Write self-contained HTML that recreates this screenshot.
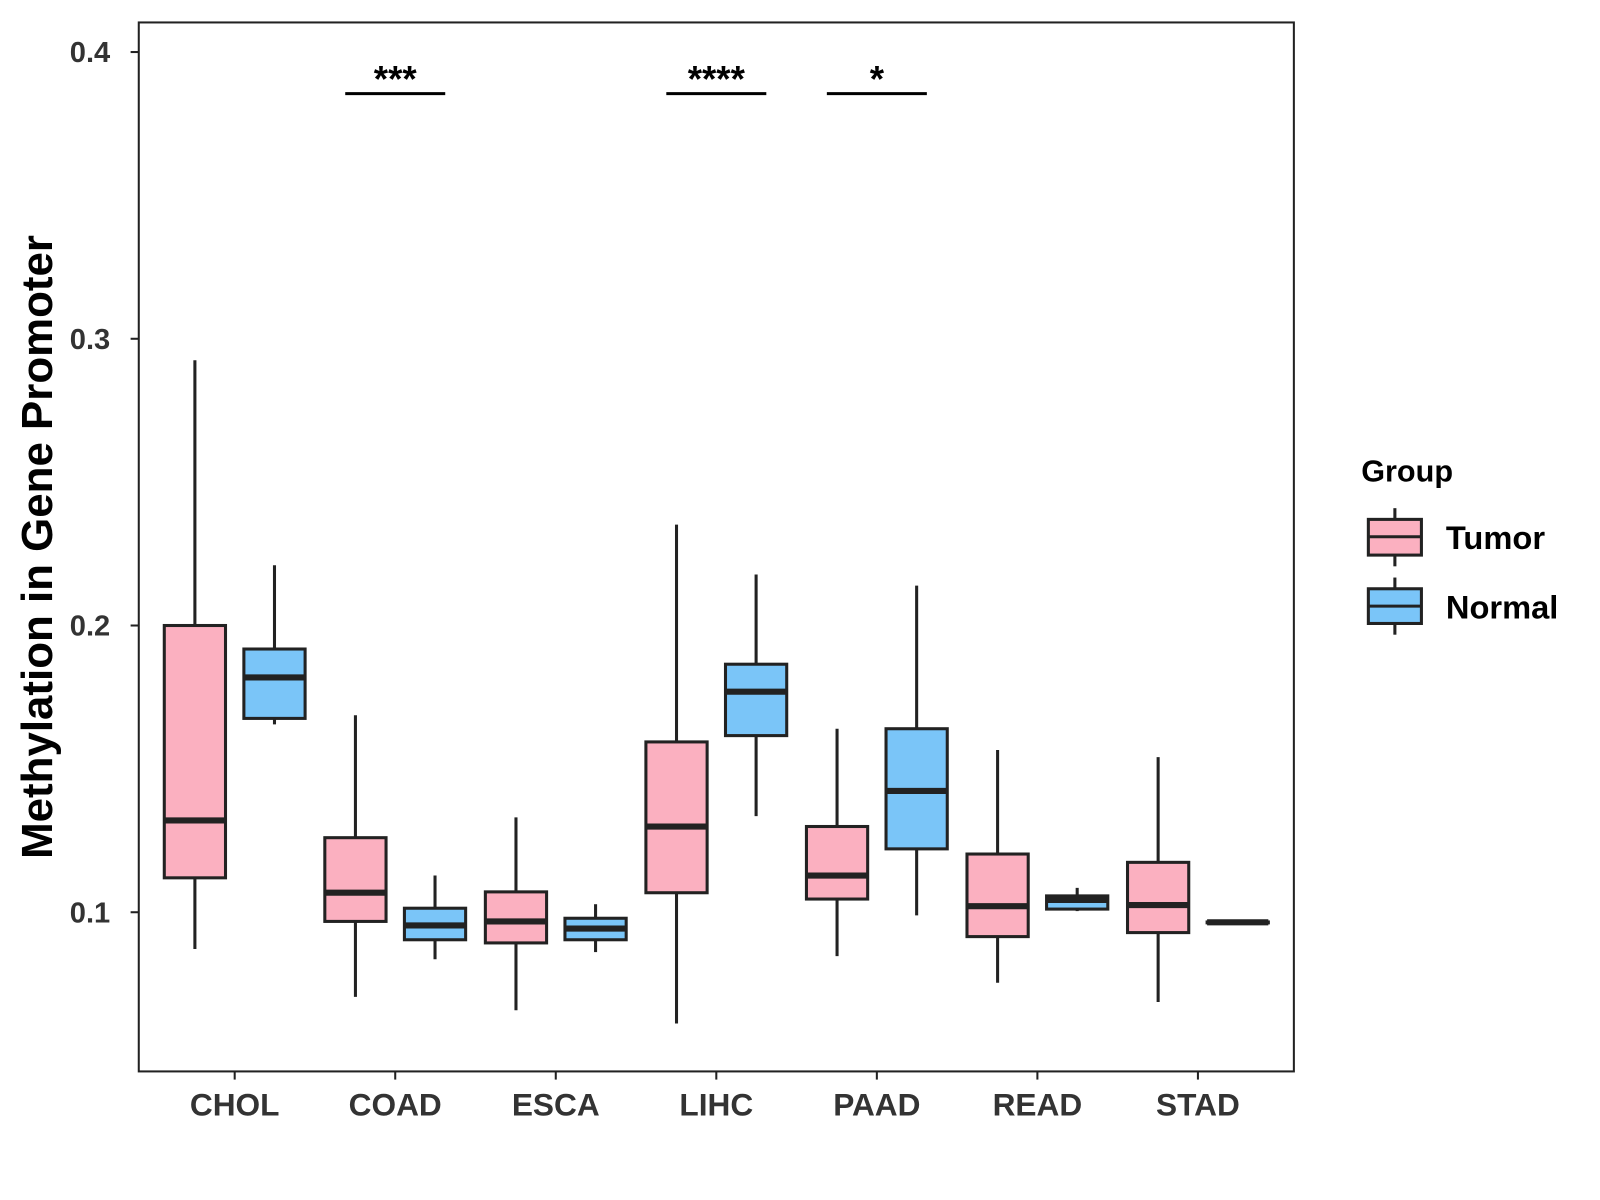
<!DOCTYPE html>
<html><head><meta charset="utf-8"><style>
html,body{margin:0;padding:0;background:#fff}
svg{display:block}
text{font-family:"Liberation Sans",Arial,sans-serif;font-weight:bold}
</style></head><body>
<svg id="chart" width="1600" height="1200" viewBox="0 0 1600 1200">
<g transform="scale(1.0204)">
<rect x="136" y="22" width="1132" height="1028" fill="#fff" stroke="#222" stroke-width="2"/>
<g id="boxes"></g>
<g id="axes"></g>
<g id="sig"></g>
<text x="51" y="536" transform="rotate(-90 51 536)" text-anchor="middle" font-size="43" fill="#000">Methylation in Gene Promoter</text>
<g>
<text x="1334" y="472" font-size="30" fill="#000">Group</text>
<g>
<line x1="1367" y1="498" x2="1367" y2="555" stroke="#222" stroke-width="3"/>
<rect x="1341" y="509" width="52" height="35" fill="#FBB0C0" stroke="#222" stroke-width="3"/>
<line x1="1341" y1="526" x2="1393" y2="526" stroke="#222" stroke-width="3"/>
<text x="1417" y="538" font-size="32" fill="#000">Tumor</text></g>
<g>
<line x1="1367" y1="566" x2="1367" y2="622" stroke="#222" stroke-width="3"/>
<rect x="1341" y="577" width="52" height="34" fill="#7AC5F8" stroke="#222" stroke-width="3"/>
<line x1="1341" y1="594" x2="1393" y2="594" stroke="#222" stroke-width="3"/>
<text x="1417" y="606" font-size="32" fill="#000">Normal</text></g>
</g>
</g>
</svg>
<script>
const categories=["CHOL","COAD","ESCA","LIHC","PAAD","READ","STAD"];
// [low, q1, median, q3, high]
const tumorStats=[[0.0872,0.112,0.132,0.2,0.2925],[0.0705,0.0968,0.1068,0.126,0.1687],[0.0658,0.0893,0.0968,0.1071,0.1331],[0.0612,0.1068,0.1299,0.1594,0.2352],[0.0847,0.1046,0.1128,0.1299,0.164],[0.0754,0.0915,0.1021,0.1203,0.1566],[0.0687,0.0929,0.1025,0.1174,0.1541]];
const normalStats=[[0.1655,0.1676,0.1819,0.1918,0.221],[0.0836,0.0904,0.0954,0.1014,0.1128],[0.0861,0.0904,0.0943,0.0979,0.1028],[0.1335,0.1616,0.1769,0.1865,0.2178],[0.0989,0.1221,0.1423,0.164,0.2139],[0.1004,0.1011,0.1043,0.1057,0.1085],[0.0962,0.0963,0.0965,0.0966,0.0968]];
const yTicks=[0.1,0.2,0.3,0.4];
const sigCats=["COAD","LIHC","PAAD"];
const sigLabels=["***","****","*"];
const sigY=0.3855;

const NS="http://www.w3.org/2000/svg";
const y=v=>51+(0.4-v)*2810;
const x=i=>230+i*157.33;
function mk(tag,attrs,parent){const e=document.createElementNS(NS,tag);for(const k in attrs)e.setAttribute(k,attrs[k]);parent.appendChild(e);return e;}
const boxes=document.getElementById('boxes'),axes=document.getElementById('axes'),sig=document.getElementById('sig');
function drawBox(cx,s,fill,name){
  const g=mk('g',{},boxes);
  
  
  mk('line',{x1:cx,x2:cx,y1:y(s[4]),y2:y(s[0]),stroke:'#222','stroke-width':3},g);
  mk('rect',{x:cx-30,y:y(s[3]),width:60,height:Math.max(y(s[1])-y(s[3]),0.5),fill:fill,stroke:'#222','stroke-width':3},g);
  mk('line',{x1:cx-30,x2:cx+30,y1:y(s[2]),y2:y(s[2]),stroke:'#222','stroke-width':6},g);
}
categories.forEach((c,i)=>{
  drawBox(x(i)-39,tumorStats[i],'#FBB0C0','box-tumor-'+c.toLowerCase());
  drawBox(x(i)+39,normalStats[i],'#7AC5F8','box-normal-'+c.toLowerCase());
  mk('line',{x1:x(i),x2:x(i),y1:1050,y2:1058,stroke:'#222','stroke-width':2},axes);
  const t=mk('text',{x:x(i),y:1093,'text-anchor':'middle','font-size':31,fill:'#333'},axes);
  
  
  t.textContent=c;
});
yTicks.forEach(v=>{
  mk('line',{x1:128,x2:136,y1:y(v),y2:y(v),stroke:'#222','stroke-width':2},axes);
  const t=mk('text',{x:108,y:y(v)+10,'text-anchor':'end','font-size':28.5,fill:'#333'},axes);
  
  
  t.textContent=v.toFixed(1);
});
sigCats.forEach((c,k)=>{
  const i=categories.indexOf(c);
  const l=mk('line',{x1:x(i)-49,x2:x(i)+49,y1:y(sigY),y2:y(sigY),stroke:'#000','stroke-width':3},sig);
  
  
  const t=mk('text',{x:x(i),y:y(sigY)-2,'text-anchor':'middle','font-size':36,fill:'#000'},sig);
  
  
  t.textContent=sigLabels[k];
});
</script>
</body></html>
